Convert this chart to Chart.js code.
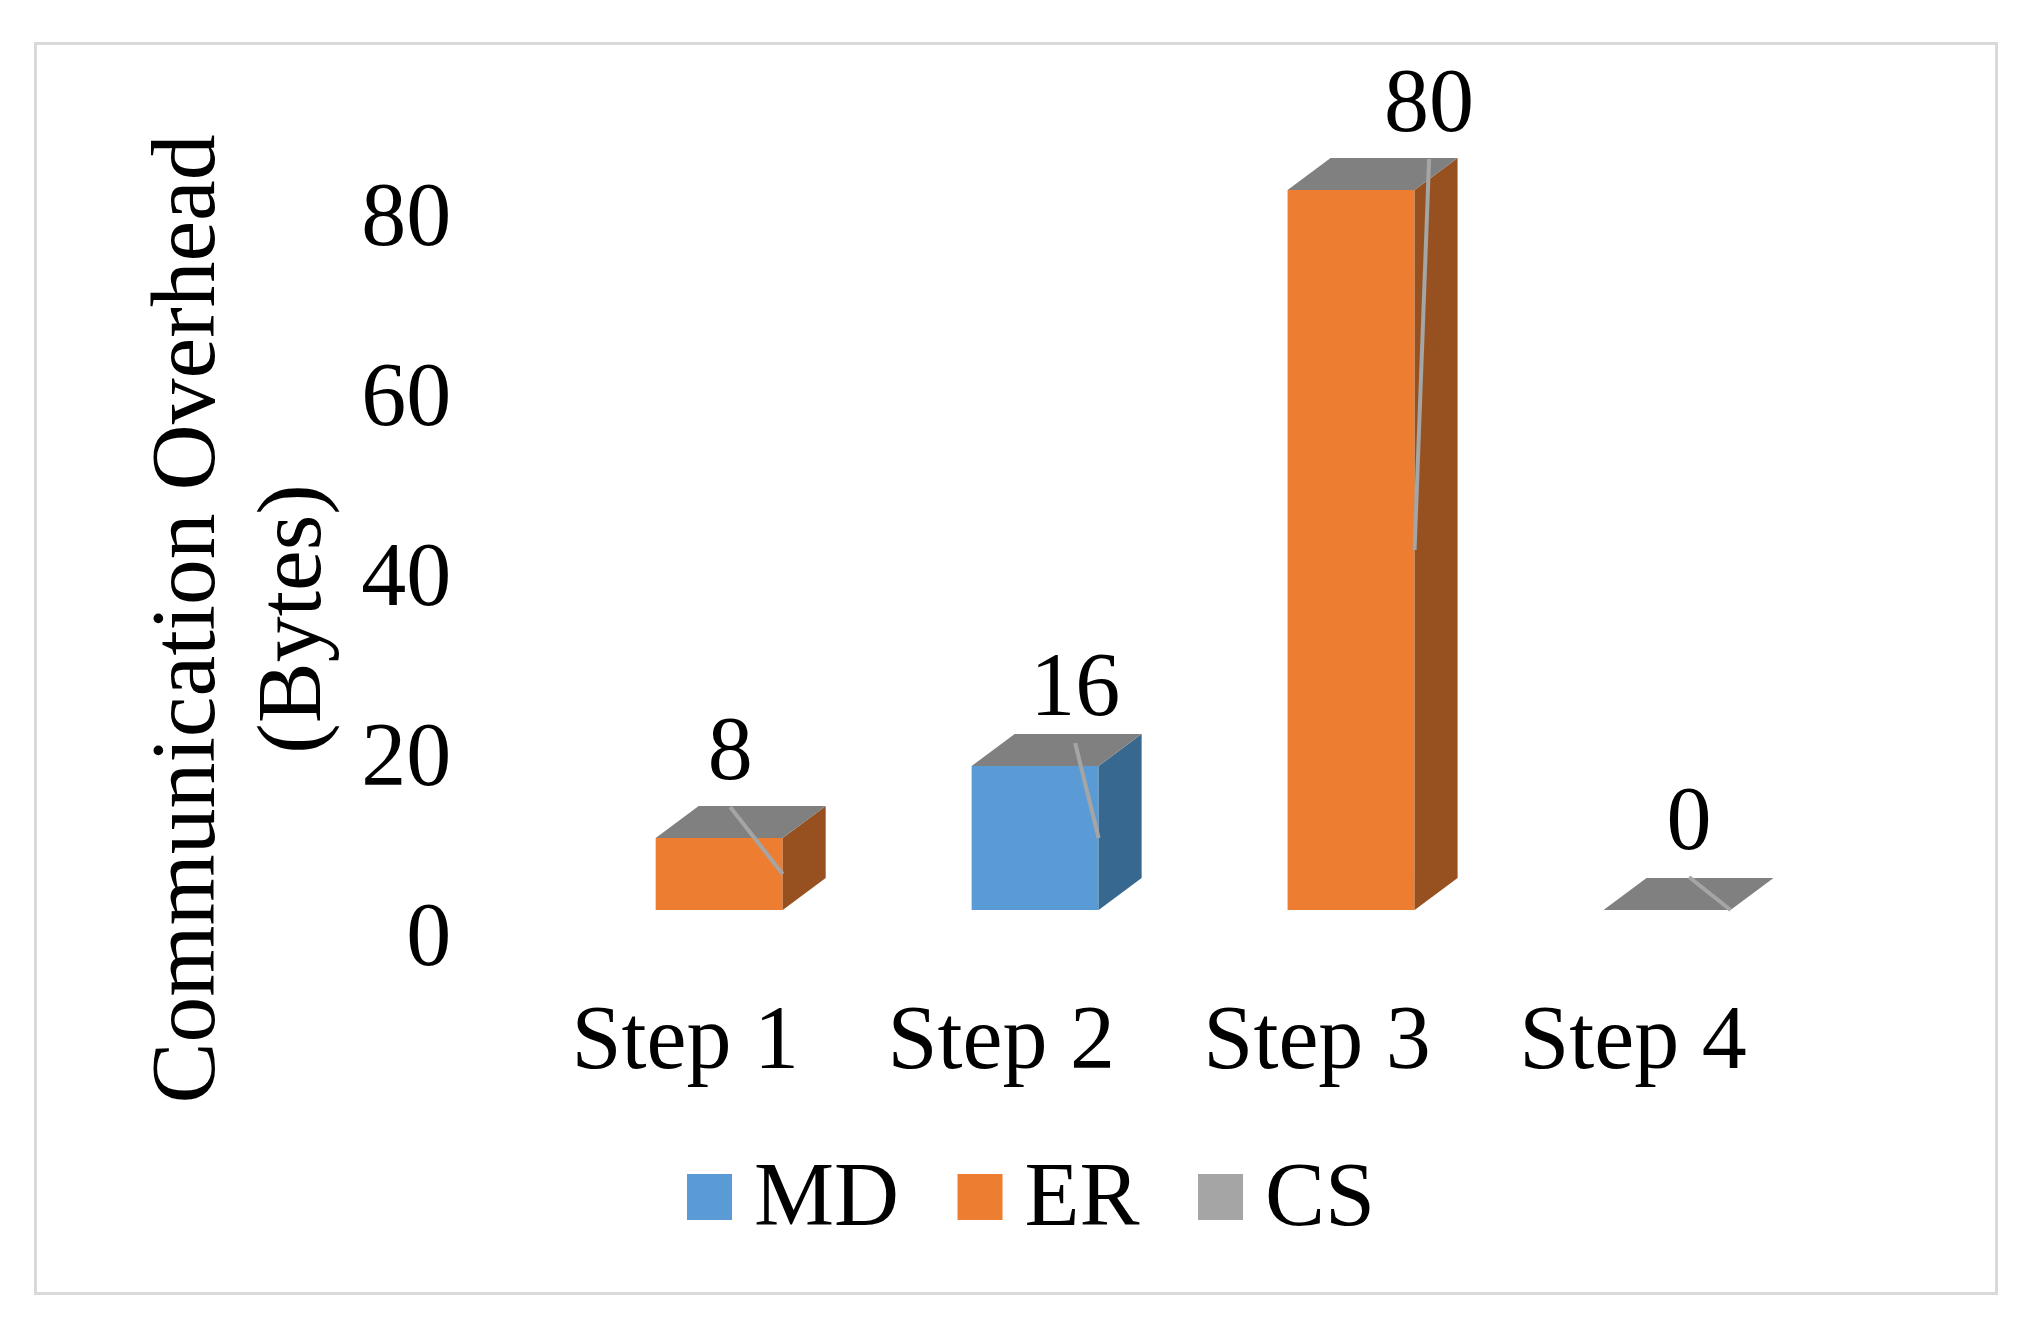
<!DOCTYPE html>
<html>
<head>
<meta charset="utf-8">
<title>Communication Overhead</title>
<script src="https://cdn.jsdelivr.net/npm/chart.js@4/dist/chart.umd.min.js"></script>
<style>
  html, body { margin: 0; padding: 0; background: #fff; }
  #frame { position: absolute; left: 34px; top: 42px; width: 1958px; height: 1247px; border: 3px solid #d9d9d9; }
  #chart { position: absolute; left: 0; top: 0; }
</style>
</head>
<body>
<div id="frame"></div>
<canvas id="chart" width="2021" height="1336"></canvas>
<script>
// Chart data
const categories = ['Step 1', 'Step 2', 'Step 3', 'Step 4'];
const mdValues = [0, 16, 0, 0];
const erValues = [8, 0, 80, 0];
const csValues = [0, 0, 0, 0];
const yTicks = [0, 20, 40, 60, 80];

const FONT = '"Liberation Serif", "Times New Roman", serif';
const FONT_SIZE = 90;
const MD_COLOR = '#5b9bd5';
const ER_COLOR = '#ed7d31';
const CS_COLOR = '#a5a5a5';
const TOP_COLOR = '#808080';
const SIDE_COLORS = { MD: '#37688f', ER: '#975120', CS: '#808080' };

// Fake 3D depth of the boxes, and where the value labels sit from the bar's front top centre
const DEPTH_X = 43;
const DEPTH_Y = 32;
const LABEL_SHIFT = [[11, -83], [40, -75], [78, -83], [22, -85]];
const LEADER_DROP = 52;

// Draws side and top faces, leader lines and value labels
const boxPlugin = {
  id: 'boxFaces',
  afterDatasetsDraw(chart) {
    const ctx = chart.ctx;
    const metas = chart.data.datasets.map((d, i) => chart.getDatasetMeta(i));

    function face(points, color) {
      ctx.fillStyle = color;
      ctx.beginPath();
      points.forEach((p, i) => (i ? ctx.lineTo(p[0], p[1]) : ctx.moveTo(p[0], p[1])));
      ctx.closePath();
      ctx.fill();
    }

    categories.forEach((cat, i) => {
      // side faces of the segments that have a height
      metas.forEach((meta, d) => {
        const bar = meta.data[i];
        const right = bar.x + bar.width / 2;
        if (chart.data.datasets[d].data[i] > 0) {
          face([
            [right, bar.y], [right + DEPTH_X, bar.y - DEPTH_Y],
            [right + DEPTH_X, bar.base - DEPTH_Y], [right, bar.base]
          ], SIDE_COLORS[chart.data.datasets[d].label]);
        }
      });

      // top face comes from the last series, it sits on top of the stack
      const top = metas[metas.length - 1].data[i];
      const l = top.x - top.width / 2;
      const r = top.x + top.width / 2;
      face([
        [l, top.y], [l + DEPTH_X, top.y - DEPTH_Y],
        [r + DEPTH_X, top.y - DEPTH_Y], [r, top.y]
      ], TOP_COLOR);

      // leader line and value label
      const total = chart.data.datasets.reduce((sum, d) => sum + d.data[i], 0);
      const labelX = top.x + LABEL_SHIFT[i][0];
      const labelY = top.y + LABEL_SHIFT[i][1];
      const base = metas[0].data[i].base;
      ctx.strokeStyle = CS_COLOR;
      ctx.lineWidth = 4;
      ctx.beginPath();
      ctx.moveTo(labelX, labelY + LEADER_DROP);
      ctx.lineTo(r, (top.y + base) / 2);
      ctx.stroke();

      ctx.fillStyle = '#000';
      ctx.font = FONT_SIZE + 'px ' + FONT;
      ctx.textAlign = 'center';
      ctx.textBaseline = 'middle';
      ctx.fillText(String(total), labelX, labelY);
    });
  },
  // Legend is drawn here because the built-in one keeps a half font gap after the swatch
  afterDraw(chart) {
    const ctx = chart.ctx;
    let x = 687;
    ctx.font = FONT_SIZE + 'px ' + FONT;
    ctx.textAlign = 'left';
    ctx.textBaseline = 'alphabetic';
    chart.data.datasets.forEach(d => {
      ctx.fillStyle = d.backgroundColor;
      ctx.fillRect(x, 1174, 45, 46);
      ctx.fillStyle = '#000';
      ctx.fillText(d.label, x + 67, 1225);
      x += 67 + ctx.measureText(d.label).width + 58.5;
    });
  }
};

new Chart(document.getElementById('chart').getContext('2d'), {
  type: 'bar',
  data: {
    labels: categories,
    datasets: [
      { label: 'MD', data: mdValues, backgroundColor: MD_COLOR },
      { label: 'ER', data: erValues, backgroundColor: ER_COLOR },
      { label: 'CS', data: csValues, backgroundColor: CS_COLOR }
    ]
  },
  options: {
    responsive: false,
    animation: false,
    devicePixelRatio: 1,
    categoryPercentage: 1,
    barPercentage: 0.402,
    layout: { autoPadding: false, padding: { left: 137, right: 196, top: 100, bottom: 198 } },
    plugins: {
      legend: { display: false },
      tooltip: { enabled: false },
      title: {
        display: true,
        position: 'left',
        text: ['Communication Overhead', '(Bytes)'],
        color: '#000',
        padding: 0,
        font: { family: FONT, size: 91.6, weight: 'normal', lineHeight: 1.16 }
      }
    },
    scales: {
      x: {
        stacked: true,
        grid: { display: false },
        border: { display: false },
        afterFit(scale) { scale.height = 228; },
        ticks: {
          color: '#000',
          font: { family: FONT, size: FONT_SIZE },
          labelOffset: -34,
          padding: 72,
          maxRotation: 0,
          autoSkip: false
        }
      },
      y: {
        stacked: true,
        min: 0,
        max: 90,
        grid: { display: false },
        border: { display: false },
        afterBuildTicks(scale) { scale.ticks = yTicks.map(v => ({ value: v })); },
        // label padding would otherwise shrink the plot area
        afterFit(scale) {
          scale.width = 211.7;
          scale.paddingTop = 0;
          scale.paddingBottom = 0;
        },
        ticks: {
          color: '#000',
          font: { family: FONT, size: FONT_SIZE },
          labelOffset: 31,
          padding: 102
        }
      }
    }
  },
  plugins: [boxPlugin]
});
</script>
</body>
</html>
